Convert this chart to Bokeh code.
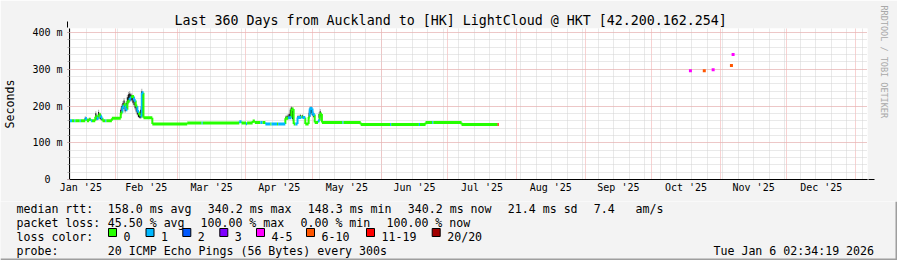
import pandas as pd
from bokeh.plotting import figure
from bokeh.layouts import column, row
from bokeh.models import (Range1d, FixedTicker, Arrow, NormalHead, ColumnDataSource, Title)
from bokeh.core.properties import value
from bokeh.embed import file_html
from bokeh.resources import INLINE

# ---------------- data ----------------
TITLE = "Last 360 Days from Auckland to [HK] LightCloud @ HKT [42.200.162.254]"
Y_LABEL = "Seconds"
WATERMARK = "RRDTOOL / TOBI OETIKER"

loss_names = ["0", "1", "2", "3", "4-5", "6-10", "11-19", "20/20"]
loss_colors = ["#26ff00", "#00b8ff", "#0059ff", "#7e00ff",
               "#ff00ff", "#ff5500", "#ff0000", "#a10000"]

y_ticks = [0, 100, 200, 300, 400]
y_tick_labels = ["0\u00a0\u00a0", "100 m", "200 m", "300 m", "400 m"]

month_starts = ["2025-01-01", "2025-02-01", "2025-03-01", "2025-04-01",
                "2025-05-01", "2025-06-01", "2025-07-01", "2025-08-01",
                "2025-09-01", "2025-10-01", "2025-11-01", "2025-12-01",
                "2026-01-01"]
month_labels = ["Jan '25", "Feb '25", "Mar '25", "Apr '25", "May '25",
                "Jun '25", "Jul '25", "Aug '25", "Sep '25", "Oct '25",
                "Nov '25", "Dec '25"]

range_start = "2025-01-11 09:10"
range_end = "2026-01-06 09:10"

# median rtt (ms), step values; each holds until the next time
median_time = [
    "2025-01-11 09:10", "2025-01-12 12:00", "2025-01-13 12:00", "2025-01-14 00:00",
    "2025-01-16 00:00", "2025-01-16 12:00", "2025-01-18 12:00", "2025-01-19 06:00",
    "2025-01-20 06:00", "2025-01-21 00:00", "2025-01-21 12:00", "2025-01-23 00:00",
    "2025-01-23 18:00", "2025-01-24 12:00", "2025-01-25 12:00", "2025-01-26 06:00",
    "2025-01-27 12:00", "2025-01-28 00:00", "2025-01-30 12:00", "2025-02-03 12:00",
    "2025-02-04 06:00", "2025-02-05 00:00", "2025-02-05 18:00", "2025-02-06 12:00",
    "2025-02-07 12:00", "2025-02-08 06:00", "2025-02-09 12:00", "2025-02-10 06:00",
    "2025-02-11 00:00", "2025-02-11 18:00", "2025-02-12 12:00", "2025-02-13 00:00",
    "2025-02-13 18:00", "2025-02-17 18:00", "2025-03-05 12:00", "2025-03-12 00:00",
    "2025-03-12 12:00", "2025-03-29 00:00", "2025-03-30 00:00", "2025-04-01 00:00",
    "2025-04-01 12:00", "2025-04-04 00:00", "2025-04-05 00:00", "2025-04-07 12:00",
    "2025-04-08 12:00", "2025-04-09 18:00", "2025-04-12 00:00", "2025-04-12 12:00",
    "2025-04-15 00:00", "2025-04-15 12:00", "2025-04-18 18:00", "2025-04-20 00:00",
    "2025-04-21 12:00", "2025-04-22 12:00", "2025-04-23 06:00", "2025-04-24 06:00",
    "2025-04-26 00:00", "2025-04-26 12:00", "2025-04-27 18:00", "2025-04-29 06:00",
    "2025-04-29 18:00", "2025-05-01 00:00", "2025-05-02 00:00", "2025-05-03 12:00",
    "2025-05-04 06:00", "2025-05-05 06:00", "2025-05-14 12:00", "2025-05-15 00:00",
    "2025-05-22 18:00", "2025-06-05 00:00", "2025-06-05 12:00", "2025-06-18 00:00",
    "2025-06-18 12:00", "2025-06-21 00:00", "2025-06-24 00:00", "2025-06-24 12:00",
    "2025-07-07 06:00", "2025-07-23 12:00",
]
median_ms = [
    160, 160, 160, 160,
    160, 160, 166, 160,
    164, 160, 160, 171,
    166, 176, 168, 160,
    160, 160, 167, 182,
    198, 205, 190, 213,
    222, 226, 215, 200,
    185, 176, 172, 236,
    168, 151, 154, 154,
    154, 157, 154, 152,
    154, 159, 155, 155,
    155, 151, 151, 151,
    151, 151, 167, 168,
    192, 151, 151, 169,
    171, 169, 151, 170,
    193, 177, 155, 160,
    178, 155, 155, 155,
    150, 150, 150, 150,
    150, 155, 155, 155,
    150, 150,
]
median_loss = [
    1, 0, 1, 0,
    1, 0, 1, 0,
    0, 1, 0, 0,
    1, 0, 1, 0,
    1, 0, 0, 0,
    1, 0, 1, 0,
    1, 0, 1, 0,
    1, 0, 1, 1,
    0, 0, 0, 1,
    0, 1, 0, 1,
    0, 0, 0, 1,
    0, 1, 0, 1,
    0, 1, 0, 1,
    0, 0, 1, 1,
    0, 1, 0, 0,
    1, 1, 0, 1,
    0, 0, 1, 0,
    0, 1, 0, 1,
    0, 0, 1, 0,
    0, 6,
]
median_stop = "2025-07-24 00:00"

# smoke (spread of the 20 pings), outer and core ranges in ms
smoke_time = [
    "2025-01-18 12:00", "2025-01-20 06:00", "2025-01-23 06:00", "2025-01-23 18:00",
    "2025-01-24 12:00", "2025-01-25 06:00", "2025-01-25 18:00",
    "2025-02-03 12:00", "2025-02-04 00:00", "2025-02-04 12:00", "2025-02-05 00:00",
    "2025-02-05 12:00", "2025-02-06 00:00", "2025-02-06 12:00", "2025-02-07 00:00",
    "2025-02-07 12:00", "2025-02-08 00:00", "2025-02-08 12:00", "2025-02-09 00:00",
    "2025-02-09 12:00", "2025-02-10 00:00", "2025-02-10 12:00", "2025-02-11 00:00",
    "2025-02-11 12:00", "2025-02-12 00:00", "2025-02-12 12:00", "2025-02-13 00:00",
    "2025-02-13 12:00",
    "2025-04-19 00:00", "2025-04-19 12:00", "2025-04-20 00:00", "2025-04-20 12:00",
    "2025-04-21 00:00", "2025-04-21 12:00", "2025-04-22 00:00", "2025-04-24 12:00",
    "2025-04-25 12:00", "2025-04-26 12:00", "2025-04-29 12:00", "2025-04-30 00:00",
    "2025-04-30 12:00", "2025-05-01 00:00", "2025-05-01 12:00", "2025-05-04 00:00",
    "2025-05-04 12:00", "2025-05-05 00:00",
]
smoke_lo = [160, 160, 162, 160, 165, 162, 160,
            172, 180, 188, 192, 182, 188, 198, 205, 210, 212, 212, 205, 198,
            190, 180, 174, 168, 166, 165, 170, 168,
            163, 163, 164, 165, 168, 172, 160, 166, 166, 166, 168, 172, 175,
            172, 168, 165, 168, 160]
smoke_hi = [172, 168, 186, 178, 190, 182, 176,
            196, 205, 214, 222, 205, 214, 230, 238, 241, 236, 234, 230, 222,
            212, 202, 195, 185, 180, 200, 247, 240,
            174, 176, 178, 182, 195, 200, 196, 176, 178, 177, 188, 200, 200,
            192, 185, 184, 192, 180]
core_lo = [162, 161, 165, 163, 168, 165, 162,
           176, 186, 192, 197, 186, 192, 205, 210, 214, 216, 216, 209, 203,
           194, 185, 177, 170, 168, 168, 175, 172,
           165, 165, 166, 167, 172, 178, 165, 167, 168, 168, 170, 178, 180,
           175, 171, 168, 172, 163]
core_hi = [168, 166, 180, 174, 184, 177, 172,
           190, 200, 208, 215, 200, 208, 224, 232, 234, 232, 230, 225, 218,
           207, 197, 190, 180, 177, 190, 240, 232,
           171, 172, 174, 178, 190, 196, 188, 173, 175, 174, 182, 196, 195,
           186, 180, 178, 186, 175]

# isolated samples in autumn
spot_time = ["2025-10-18 12:00", "2025-10-24 18:00", "2025-10-28 18:00",
             "2025-11-06 00:00", "2025-11-06 18:00"]
spot_ms = [296, 296, 299, 310, 340.2]
spot_loss = [4, 5, 4, 5, 4]

# legend texts
row_heads = ["median rtt:", "packet loss:", "loss color:", "probe:"]
rtt_items = ["158.0 ms avg", "340.2 ms max", "148.3 ms min", "340.2 ms now",
             "21.4 ms sd", "7.4", "am/s"]
loss_items = ["45.50 % avg", "100.00 % max", "0.00 % min", "100.00 % now"]
probe_text = "20 ICMP Echo Pings (56 Bytes) every 300s"
stamp_text = "Tue Jan  6 02:34:19 2026"

# ---------------- layout constants ----------------
W, H = 897, 260
CH_H = 201                      # chart figure height
LEFT, RIGHT, TOP, BOTTOM = 67, 30, 28, 22
MONO = "DejaVu Sans Mono"
BG = "#f3f3f3"
MGRID = "#f0a4a4"
GRID = "#d2d2d2"
SHADE = "#9e9e9e"

p = figure(width=W, height=CH_H, x_axis_type="datetime",
           output_backend="svg", toolbar_location=None,
           x_range=Range1d(pd.Timestamp(range_start), pd.Timestamp(range_end)),
           y_range=Range1d(0, 411),
           min_border_left=LEFT, min_border_right=RIGHT,
           min_border_top=TOP, min_border_bottom=BOTTOM)
p.background_fill_color = "white"
p.border_fill_color = BG
p.outline_line_color = None

p.title.text = TITLE
p.title.align = "left"
p.title.offset = 105
p.title.standoff = 1
p.title.text_font = MONO
p.title.text_font_size = "13.3px"
p.title.text_font_style = "normal"
p.title.text_color = "black"

# watermark on the right edge, reading downwards
p.add_layout(Title(text=WATERMARK, align="left", offset=-23, standoff=18,
                   vertical_align="top", text_font=MONO, text_font_size="8.5px",
                   text_font_style="normal", text_color="#a8a8a8"), "right")

# --- grids
ms = lambda s: pd.Timestamp(s).value // 10**6
mstarts = [ms(s) for s in month_starts]
sundays = [ms(d) for d in pd.date_range("2025-01-05", "2026-01-11", freq="W-SUN")]
p.xgrid.ticker = FixedTicker(ticks=mstarts, minor_ticks=sundays)
p.xgrid.grid_line_color = MGRID
p.xgrid.grid_line_dash = "1 1"
p.xgrid.minor_grid_line_color = GRID
p.xgrid.minor_grid_line_dash = "1 1"

y_minor = list(range(0, 420, 20))
p.ygrid.ticker = FixedTicker(ticks=y_ticks[1:], minor_ticks=y_minor[1:])
p.ygrid.grid_line_color = MGRID
p.ygrid.grid_line_dash = "1 1"
p.ygrid.minor_grid_line_color = GRID
p.ygrid.minor_grid_line_dash = "1 1"

# --- axes
mid_ticks = [(a + b) // 2 for a, b in zip(mstarts[:-1], mstarts[1:])]
xa = p.xaxis[0]
xa.ticker = FixedTicker(ticks=mid_ticks, minor_ticks=[])
xa.major_label_overrides = {t: lab for t, lab in zip(mid_ticks, month_labels)}
xa.major_tick_line_color = None
xa.minor_tick_line_color = None
xa.major_tick_out = 0
xa.major_tick_in = 0
xa.major_label_standoff = 2
xa.axis_line_color = "black"
xa.major_label_text_font = MONO
xa.major_label_text_font_size = "10px"
xa.major_label_text_color = "black"

ya = p.yaxis[0]
ya.ticker = FixedTicker(ticks=y_ticks, minor_ticks=y_minor)
ya.major_label_overrides = {t: lab for t, lab in zip(y_ticks, y_tick_labels)}
ya.major_tick_out = 2
ya.major_tick_in = 0
ya.major_tick_line_color = "#e07070"
ya.minor_tick_out = 2
ya.minor_tick_in = 0
ya.minor_tick_line_color = "#b0b0b0"
ya.major_label_standoff = 5
ya.axis_line_color = "black"
ya.major_label_text_font = MONO
ya.major_label_text_font_size = "10px"
ya.major_label_text_color = "black"
ya.axis_label = Y_LABEL
ya.axis_label_text_font = MONO
ya.axis_label_text_font_size = "11.6px"
ya.axis_label_text_font_style = "normal"
ya.axis_label_text_color = "black"
ya.axis_label_standoff = 12

# --- smoke
half_day = 12 * 3600 * 1000
p.vbar(x=pd.to_datetime(smoke_time), width=half_day, bottom=smoke_lo, top=smoke_hi,
       fill_color="#b4b4b4", line_color=None)
p.vbar(x=pd.to_datetime(smoke_time), width=half_day, bottom=core_lo, top=core_hi,
       fill_color="#1a1a1a", line_color=None)

# --- median line coloured by loss
t = list(pd.to_datetime(median_time))
t_next = t[1:] + [pd.Timestamp(median_stop)]
cols = [loss_colors[k] for k in median_loss]
vsrc = ColumnDataSource(dict(x=t[1:], y0=median_ms[:-1], y1=median_ms[1:], c=cols[1:]))
p.segment(x0="x", y0="y0", x1="x", y1="y1", line_color="c", line_width=2, source=vsrc)
hsrc = ColumnDataSource(dict(x0=t, x1=t_next, y=median_ms, c=cols))
p.segment(x0="x0", y0="y", x1="x1", y1="y", line_color="c", line_width=3,
          line_cap="butt", source=hsrc)

# --- isolated samples
p.rect(x=pd.to_datetime(spot_time), y=spot_ms, width=3, height=3,
       width_units="screen", height_units="screen",
       fill_color=[loss_colors[k] for k in spot_loss], line_color=None)

# --- axis arrows
head = dict(size=6, fill_color="#8b1a1a", line_color="#8b1a1a")
p.add_layout(Arrow(end=NormalHead(**head), x_start=LEFT + 799, y_start=CH_H - BOTTOM,
                   x_end=LEFT + 807, y_end=CH_H - BOTTOM,
                   start_units="canvas", end_units="canvas", line_color="black"))
p.add_layout(Arrow(end=NormalHead(**head), x_start=LEFT, y_start=TOP + 1,
                   x_end=LEFT, y_end=TOP - 7,
                   start_units="canvas", end_units="canvas", line_color="black"))

# --- legend area (canvas-pixel coordinates, y downward)
leg = figure(width=W, height=H - CH_H, output_backend="svg", toolbar_location=None,
             x_range=Range1d(0, W), y_range=Range1d(H, CH_H), min_border=0)
leg.axis.visible = False
leg.grid.visible = False
leg.outline_line_color = None
leg.background_fill_color = BG
leg.border_fill_color = BG

base = [208.3, 222.2, 236.1, 250.0]
tx, ty, tt, ta = [], [], [], []


def put(x, y, s, align="left"):
    tx.append(x); ty.append(y); tt.append(s); ta.append(align)


for head_txt, y in zip(row_heads, base):
    put(16, y, head_txt)
for s, x in zip(rtt_items, [107.3, 207.3, 307.3, 407.3, 507.3, 593.3, 635]):
    put(x, base[0], s)
for s, x in zip(loss_items, [107.3, 200, 300, 386]):
    put(x, base[1], s)
box_x = [108, 145.5, 182.3, 219.3, 256, 306, 366, 431.7]
for name, x in zip(loss_names, box_x):
    put(x + 15, base[2], name)
put(107.3, base[3], probe_text)
put(880.5, base[3], stamp_text, "right")
leg.text(x=tx, y=ty, text=tt, text_align=ta, text_font=value(MONO),
         text_font_size="11.6px", text_color="black", text_baseline="alphabetic")
leg.quad(left=box_x, right=[x + 8 for x in box_x], top=[228] * 8, bottom=[236] * 8,
         fill_color=loss_colors, line_color="black", line_width=1)
leg.quad(left=[W - 2, 0], right=[W, W], top=[CH_H, H - 2], bottom=[H, H],
         fill_color=SHADE, line_color=None)

layout = column(row(p, spacing=0), leg, spacing=0)
open("out.html", "w").write(file_html(layout, INLINE))
